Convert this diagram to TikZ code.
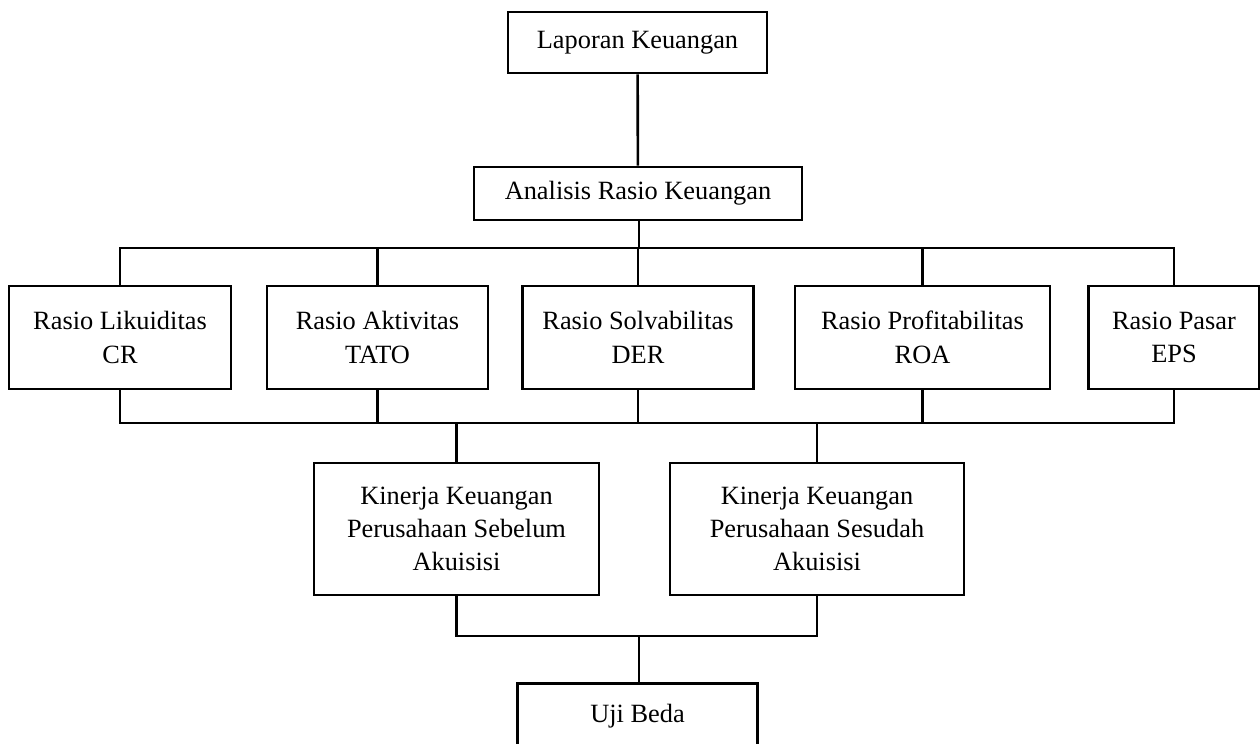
\documentclass[tikz,border=0pt]{standalone}
\usepackage{fontspec}
\setmainfont{Liberation Serif}
\begin{document}
\begin{tikzpicture}
% Gaya
\tikzset{
  kotak/.style={rectangle, draw, line width=1.5pt, align=center, font=\fontsize{15}{19}\selectfont},
  garis/.style={line width=1.5pt}
}
\useasboundingbox (0,0) rectangle (25.2,-14.86);

% Laporan dan analisis
\node[kotak, minimum width=5.18cm, minimum height=1.22cm] (laporan) at (12.75,-0.85) {Laporan Keuangan};
\node[kotak, minimum width=6.56cm, minimum height=1.06cm] (analisis) at (12.76,-3.87) {Analisis Rasio Keuangan};

% Rasio keuangan
\node[kotak, minimum width=4.44cm, minimum height=2.06cm] (likuiditas) at (2.40,-6.75) {Rasio Likuiditas\\CR};
\node[kotak, minimum width=4.42cm, minimum height=2.06cm] (aktivitas) at (7.55,-6.75) {Rasio Aktivitas\\TATO};
\node[kotak, minimum width=4.62cm, minimum height=2.06cm] (solvabilitas) at (12.76,-6.75) {Rasio Solvabilitas\\DER};
\node[kotak, minimum width=5.10cm, minimum height=2.06cm] (profitabilitas) at (18.45,-6.75) {Rasio Profitabilitas\\ROA};
\node[kotak, minimum width=3.42cm, minimum height=2.06cm] (pasar) at (23.48,-6.75) {Rasio Pasar\\EPS};

% Kinerja keuangan
\node[kotak, minimum width=5.70cm, minimum height=2.64cm] (sebelum) at (9.13,-10.58) {Kinerja Keuangan\\Perusahaan Sebelum\\Akuisisi};
\node[kotak, minimum width=5.88cm, minimum height=2.64cm] (sesudah) at (16.34,-10.58) {Kinerja Keuangan\\Perusahaan Sesudah\\Akuisisi};

% Uji beda
\node[kotak, minimum width=4.80cm, minimum height=1.30cm] (uji) at (12.75,-14.32) {Uji Beda};

% Titik cabang
\coordinate (cabang1) at (12.78,-4.96);
\coordinate (cabang2) at (12.78,-8.46);
\coordinate (cabang3) at (12.78,-12.72);

% Hubungan
\draw[garis] (laporan) -- (analisis);
\draw[garis] (analisis.south -| cabang1) -- (cabang1);
\draw[garis] (likuiditas.north) |- (pasar.north |- cabang1) -- (pasar.north);
\foreach \n in {aktivitas,solvabilitas,profitabilitas}
  \draw[garis] (\n.north) -- (\n.north |- cabang1);
\draw[garis] (likuiditas.south) |- (pasar.south |- cabang2) -- (pasar.south);
\foreach \n in {aktivitas,solvabilitas,profitabilitas}
  \draw[garis] (\n.south) -- (\n.south |- cabang2);
\draw[garis] (sebelum.north) -- (sebelum.north |- cabang2);
\draw[garis] (sesudah.north) -- (sesudah.north |- cabang2);
\draw[garis] (sebelum.south) |- (sesudah.south |- cabang3) -- (sesudah.south);
\draw[garis] (cabang3) -- (uji.north -| cabang3);

\end{tikzpicture}
\end{document}
